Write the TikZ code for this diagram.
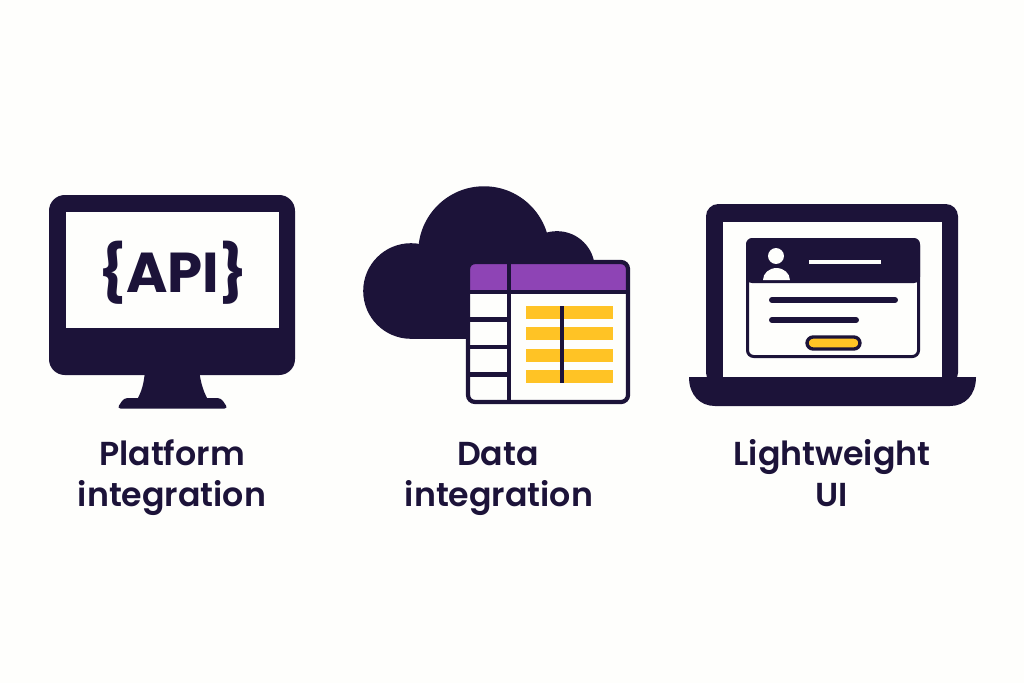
\documentclass[tikz,border=0pt]{standalone}
\usepackage{fontspec}
\setmainfont{Poppins}[BoldFont={Poppins SemiBold}]
\newfontfamily\heavyfont{Poppins}
\definecolor{ink}{HTML}{1C1339}
\definecolor{paper}{HTML}{FEFEFC}
\definecolor{plum}{HTML}{8E44B5}
\definecolor{amber}{HTML}{FFC325}
\tikzstyle{solid}=[fill=ink, draw=none]
\tikzstyle{blank}=[fill=paper, draw=none]
\tikzstyle{bar}=[fill=amber, draw=none]
\tikzstyle{rule}=[draw=ink, line width=2.4pt]
\tikzstyle{caption}=[text=ink, font=\fontsize{18.9}{18.9}\selectfont\bfseries, anchor=base]
\begin{document}
\begin{tikzpicture}[x=0.02cm, y=-0.02cm]
		   \useasboundingbox (0, 0) rectangle (1024, 683);
		   \fill [paper] (0, 0) rectangle (1024, 683);
		   \begin{scope}
			   \path [solid, rounded corners=9pt] (49, 195) rectangle (295, 375);
			   \path [blank] (66, 212) rectangle (279, 328);
			   \path [solid] (145, 370) -- (199, 370) .. controls (201, 385) and (204, 392) .. (207, 398) -- (138, 398) .. controls (141, 392) and (144, 385) .. (145, 370) -- cycle;
			   \path [solid, rounded corners=2pt] (117, 408.5) -- (124, 398) -- (221, 398) -- (228, 408.5) -- cycle;
			   \node (api) at (173, 292) [text=ink, anchor=base, font=\fontsize{32}{32}\heavyfont\bfseries] {\{API\}};
			   \node (platform) at (172, 465.5) [caption] {Platform};
			   \node (platformb) at (172, 506.5) [caption] {integration};
		   \end{scope}
		   \begin{scope}
			   \fill [ink] (411, 291) circle [radius=48*0.567pt];
			   \fill [ink] (484, 252) circle [radius=66*0.567pt];
			   \fill [ink] (557, 269) circle [radius=38*0.567pt];
			   \fill [ink] (411, 270) rectangle (560, 339);
			   \path [blank, rounded corners=4pt] (468, 262) rectangle (628, 402);
			   \path [fill=plum, rounded corners=4pt] (468, 262) -- (628, 262) -- (628, 292) -- (468, 292) -- cycle;
			   \foreach \y in {306, 327, 349, 370} {
				   \path [bar] (526, \y) rectangle (613, \y+13);
			   }
			   \path [solid] (560, 306) rectangle (564, 383);
			   \path [rule] (468, 292) -- (628, 292);
			   \path [rule] (509, 262) -- (509, 402);
			   \path [rule] (468, 319.5) -- (509, 319.5);
			   \path [rule] (468, 347) -- (509, 347);
			   \path [rule] (468, 374.5) -- (509, 374.5);
			   \path [rule, rounded corners=4pt] (468, 262) rectangle (628, 402);
			   \node (data) at (498, 465.5) [caption] {Data};
			   \node (datab) at (499, 506.5) [caption] {integration};
		   \end{scope}
		   \begin{scope}
			   \path [solid, rounded corners=7pt] (706, 385) -- (706, 204) -- (958, 204) -- (958, 385) -- cycle;
			   \path [blank] (723, 222) rectangle (942, 377);
			   \path [solid] (689, 377) -- (976, 377) .. controls (976, 395) and (965, 406) .. (950, 406) -- (715, 406) .. controls (700, 406) and (689, 395) .. (689, 377) -- cycle;
			   \path [blank, rounded corners=3.5pt] (746, 238) rectangle (920, 358);
			   \path [rule, line width=1.7pt, rounded corners=3.5pt] (747.5, 239.5) rectangle (918.5, 356.5);
			   \path [solid, rounded corners=3.5pt] (746, 283) -- (746, 238) -- (920, 238) -- (920, 283) -- cycle;
			   \fill [paper] (776, 256) circle [radius=8*0.567pt];
			   \fill [paper] (763, 280) arc [start angle=180, end angle=0, x radius=13.5*0.567pt, y radius=12*0.567pt] -- cycle;
			   \path [blank] (809, 260) rectangle (881, 264);
			   \path [draw=ink, line width=3.4pt, line cap=round] (772, 300) -- (895, 300);
			   \path [draw=ink, line width=3.4pt, line cap=round] (772, 320) -- (856, 320);
			   \path [bar, draw=ink, line width=1.9pt, rounded corners=3.5pt] (807, 337) rectangle (860, 349);
			   \node (light) at (832, 465.5) [caption] {Lightweight};
			   \node (lightb) at (832, 506.5) [caption] {UI};
		   \end{scope}
\end{tikzpicture}
\end{document}
